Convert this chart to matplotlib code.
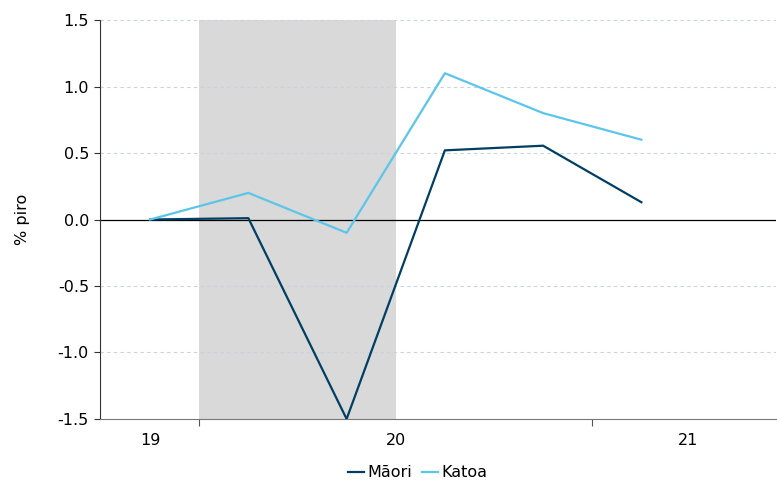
import matplotlib
matplotlib.use('Agg')
import matplotlib.pyplot as plt
import numpy as np

# quarterly positions: Dec-19 .. Mar-21
quarters = [0, 1, 2, 3, 4, 5]
maori = [0.0, 0.01, -1.5, 0.52, 0.555, 0.13]
katoa = [0.0, 0.20, -0.10, 1.10, 0.80, 0.60]
year_labels = ['19', '20', '21']
year_bounds = [0.5, 4.5]
shade = (0.5, 2.5)

fig = plt.figure(figsize=(7.77, 4.86), dpi=100)
ax = fig.add_axes([0.1287, 0.1379, 0.8700, 0.8209])

ax.axvspan(shade[0], shade[1], color='#d9d9d9', lw=0, zorder=0)
ax.axhline(0, color='black', lw=0.9, zorder=1)
ax.plot(quarters, maori, color='#003f63', lw=1.6, label='Māori', zorder=3)
ax.plot(quarters, katoa, color='#5bc5ea', lw=1.6, label='Katoa', zorder=3)

ax.set_ylim(-1.5, 1.5)
ax.set_xlim(-0.51, 6.37)
ax.set_yticks(np.arange(-1.5, 1.51, 0.5))
ax.set_yticklabels(['%.1f' % v for v in np.arange(-1.5, 1.51, 0.5)])
for v in [-1.0, -0.5, 0.5, 1.0, 1.5]:
	ax.axhline(v, color='#c8d3dc', lw=0.8, ls=(0, (3, 3)), zorder=0.5)

ax.set_xticks(year_bounds)
ax.set_xticklabels(['', ''])
ax.set_xticks([0, 2.5, 5.48], minor=True)
ax.set_xticklabels(year_labels, minor=True)
ax.tick_params(axis='x', which='major', length=5, color='#555555')
ax.tick_params(axis='x', which='minor', length=0, pad=10, labelsize=11.5)
ax.tick_params(axis='y', length=4, color='#333333', labelsize=11.5, pad=4)

for s in ['top', 'right']:
	ax.spines[s].set_visible(False)
ax.spines['left'].set_color('#333333')
ax.spines['bottom'].set_color('#777777')

ax.set_ylabel('% piro', fontsize=11.5, labelpad=20)

ax.legend(loc='upper center', bbox_to_anchor=(0.47, -0.088), ncol=2, frameon=False,
	fontsize=11.5, handlelength=1.0, handletextpad=0.2, columnspacing=0.6,
	borderaxespad=0.3)

plt.savefig('out.png', dpi=100)
